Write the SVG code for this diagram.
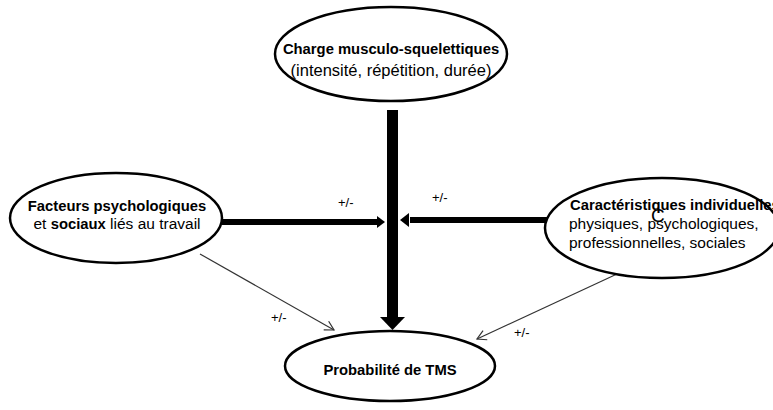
<svg xmlns="http://www.w3.org/2000/svg" width="773" height="410" viewBox="0 0 773 410">
<style>
.node ellipse{fill:#fff;stroke:#000;stroke-width:2.5}
text{font-family:"Liberation Sans",Arial,sans-serif;font-size:15.5px;fill:#000}
.b{font-weight:bold;font-size:14.8px}
.lbl{font-size:13px}
.thin{stroke:#333;stroke-width:1.2;fill:none}
</style>
<defs>
<marker id="open" markerWidth="12" markerHeight="12" refX="10" refY="6" orient="auto" markerUnits="userSpaceOnUse">
<path d="M1,1 L10,6 L1,11" fill="none" stroke="#333" stroke-width="1.2"/>
</marker>
</defs>
<g id="connectors">
<rect x="387" y="110" width="11" height="208" fill="#000"/>
<polygon points="380,317 405,317 392.5,330" fill="#000"/>
<rect x="222" y="219" width="156" height="6" fill="#000"/>
<polygon points="377,216 385,222 377,228" fill="#000"/>
<rect x="410" y="217" width="147" height="6" fill="#000"/>
<polygon points="409,213 400,220 409,227" fill="#000"/>
<line class="thin" x1="200" y1="254" x2="334" y2="330" marker-end="url(#open)"/>
<line class="thin" x1="617" y1="274" x2="477" y2="339" marker-end="url(#open)"/>
<text class="lbl" x="338" y="207">+/-</text>
<text class="lbl" x="432" y="202">+/-</text>
<text class="lbl" x="271" y="322">+/-</text>
<text class="lbl" x="514" y="337">+/-</text>
</g>
<g id="node-charge" class="node">
<ellipse cx="391" cy="54" rx="116" ry="47"/>
<text class="b" x="391" y="54" text-anchor="middle">Charge musculo-squelettiques</text>
<text x="391" y="76" text-anchor="middle" style="font-size:16.5px">(intensité, répétition, durée)</text>
</g>
<g id="node-facteurs" class="node">
<ellipse cx="116" cy="218" rx="106" ry="45"/>
<text class="b" x="117" y="211" text-anchor="middle">Facteurs psychologiques</text>
<text x="117" y="229" text-anchor="middle">et <tspan class="b">sociaux</tspan> liés au travail</text>
</g>
<g id="node-caracteristiques" class="node">
<ellipse cx="662" cy="228" rx="117" ry="50"/>
<text class="b" x="570" y="210">Caractéristiques individuelles</text>
<text x="569" y="229">physiques, psychologiques,</text>
<text x="569" y="248">professionnelles, sociales</text>
<text x="651" y="222" style="font-size:19px">C</text>
</g>
<g id="node-probabilite" class="node">
<ellipse cx="390" cy="366" rx="105" ry="35"/>
<text class="b" x="390" y="375" text-anchor="middle">Probabilité de TMS</text>
</g>
</svg>
